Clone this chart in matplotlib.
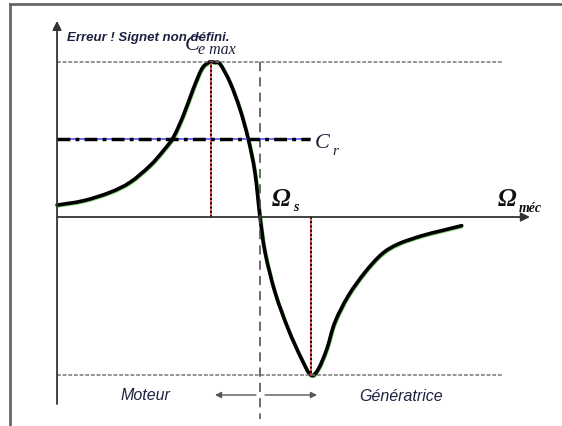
import matplotlib
matplotlib.use("Agg")
import matplotlib.pyplot as plt
from matplotlib.lines import Line2D
from matplotlib.path import Path
from matplotlib.patches import PathPatch
from matplotlib.transforms import offset_copy

# torque-speed characteristic (speed normalised to synchronism, torque to Ce max)
speed = [0.0, 0.130, 0.261, 0.360, 0.458, 0.524, 0.573, 0.622, 0.671, 0.713,
         0.745, 0.761, 0.778, 0.803, 0.852, 0.901, 0.942, 0.975, 1.0, 1.025,
         1.074, 1.139, 1.205, 1.251, 1.287, 1.329, 1.369, 1.435, 1.517, 1.600,
         1.681, 1.797, 1.895, 1.994]
torque = [0.077, 0.105, 0.159, 0.224, 0.331, 0.428, 0.514, 0.654, 0.826, 0.955,
          0.995, 1.0, 0.997, 0.987, 0.869, 0.697, 0.503, 0.288, 0.0, -0.228,
          -0.486, -0.723, -0.916, -1.02, -0.981, -0.852, -0.679, -0.508, -0.357, -0.239,
          -0.174, -0.121, -0.088, -0.056]

omega_s = 1.0
ce_max = 1.0
speed_ce_max = 0.761
ce_min = -1.02
speed_ce_min = 1.251
cr = 0.5

ink = "#1e2140"


def smooth_path(xs, ys):
    # Catmull-Rom through the points, written as cubic Bezier segments
    pts = list(zip(xs, ys))
    verts = [pts[0]]
    codes = [Path.MOVETO]
    n = len(pts)
    for i in range(n - 1):
        p0 = pts[max(i - 1, 0)]
        p1 = pts[i]
        p2 = pts[i + 1]
        p3 = pts[min(i + 2, n - 1)]
        c1 = (p1[0] + (p2[0] - p0[0]) / 6, p1[1] + (p2[1] - p0[1]) / 6)
        c2 = (p2[0] - (p3[0] - p1[0]) / 6, p2[1] - (p3[1] - p1[1]) / 6)
        verts += [c1, c2, p2]
        codes += [Path.CURVE4] * 3
    return Path(verts, codes)


fig = plt.figure(figsize=(5.62, 4.27), dpi=100)
ax = fig.add_axes([0, 0, 1, 1])
ax.set_xlim(-0.281, 2.488)
ax.set_ylim(-1.348, 1.406)
ax.axis("off")

# page frame
fig.add_artist(Line2D([0.0178, 1.0], [0.988, 0.988], color="#666", lw=2))
fig.add_artist(Line2D([0.0178, 0.0178], [0.0, 0.988], color="#666", lw=2))

# axes with arrows
arrow = dict(arrowstyle="-|>", color="#333", lw=1.3, mutation_scale=13,
             shrinkA=0, shrinkB=0)
ax.annotate("", xy=(0, 1.265), xytext=(0, -1.206), arrowprops=arrow)
ax.annotate("", xy=(2.33, 0), xytext=(0, 0), arrowprops=arrow)

# guide lines
ax.plot([0, 2.19], [ce_max, ce_max], color="#777", lw=1.1, ls=(0, (2.5, 1.2)))
ax.plot([0, 2.19], [ce_min, ce_min], color="#777", lw=1.1, ls=(0, (2.5, 1.2)))
ax.plot([omega_s, omega_s], [ce_max, -1.303], color="#444", lw=1.1,
        ls=(0, (6, 4)))

for xs, ys in [(speed_ce_max, ce_max), (speed_ce_min, ce_min)]:
    ax.plot([xs, xs], [0, ys], color="#f03a3a", lw=1.2)
    ax.plot([xs, xs], [0, ys], color="black", lw=1.4, ls=(0, (0.9, 1.3)))

# load torque Cr
ax.plot([0, 1.246], [cr, cr], color="#6060ff", lw=1.3)
ax.plot([0, 1.246], [cr, cr], color="black", lw=2.5,
        ls=(0, (3.7, 1.5, 1.1, 1.5)))

# characteristic
curve = smooth_path(speed, torque)
shadow = offset_copy(ax.transData, fig=fig, x=0.6, y=-0.8, units="dots")
ax.add_patch(PathPatch(curve, fill=False, edgecolor="#7cc96e", lw=2.6,
                       transform=shadow, joinstyle="round"))
ax.add_patch(PathPatch(curve, fill=False, edgecolor="black", lw=2.6,
                       joinstyle="round", capstyle="round"))

# labels
ax.text(0.049, 1.142, "Erreur ! Signet non défini.", family="Liberation Sans",
        weight="bold", style="italic", size=9.5, color=ink, va="baseline")
ax.text(0.631, 1.084, "C", family="Liberation Serif", style="italic", size=16,
        color=ink, va="baseline")
ax.text(0.695, 1.058, "e max", family="Liberation Serif", style="italic",
        size=11.5, color=ink, va="baseline")
ax.text(1.271, 0.452, "C", family="Liberation Serif", style="italic", size=16,
        color=ink, va="baseline")
ax.text(1.355, 0.406, "r", family="Liberation Serif", style="italic", size=11,
        color=ink, va="baseline")
ax.text(1.059, 0.077, "Ω", family="Liberation Serif", style="italic",
        weight="bold", size=18, color="#111", va="baseline")
ax.text(1.165, 0.045, "s", family="Liberation Serif", style="italic",
        weight="bold", size=10, color="#111", va="baseline")
ax.text(2.172, 0.077, "Ω", family="Liberation Serif", style="italic",
        weight="bold", size=18, color="#111", va="baseline")
ax.text(2.273, 0.039, "méc", family="Liberation Serif", style="italic",
        weight="bold", size=10, color="#111", va="baseline")

ax.text(0.315, -1.174, "Moteur", family="Liberation Sans", style="italic",
        size=11.5, color=ink, va="baseline")
ax.text(1.488, -1.181, "Génératrice", family="Liberation Sans", style="italic",
        size=11.5, color=ink, va="baseline")

small = dict(arrowstyle="-|>", color="#555", lw=1.0, mutation_scale=9,
             shrinkA=0, shrinkB=0)
ax.annotate("", xy=(0.778, -1.148), xytext=(0.98, -1.148), arrowprops=small)
ax.annotate("", xy=(1.281, -1.148), xytext=(1.025, -1.148), arrowprops=small)

fig.savefig("out.png", dpi=100)
